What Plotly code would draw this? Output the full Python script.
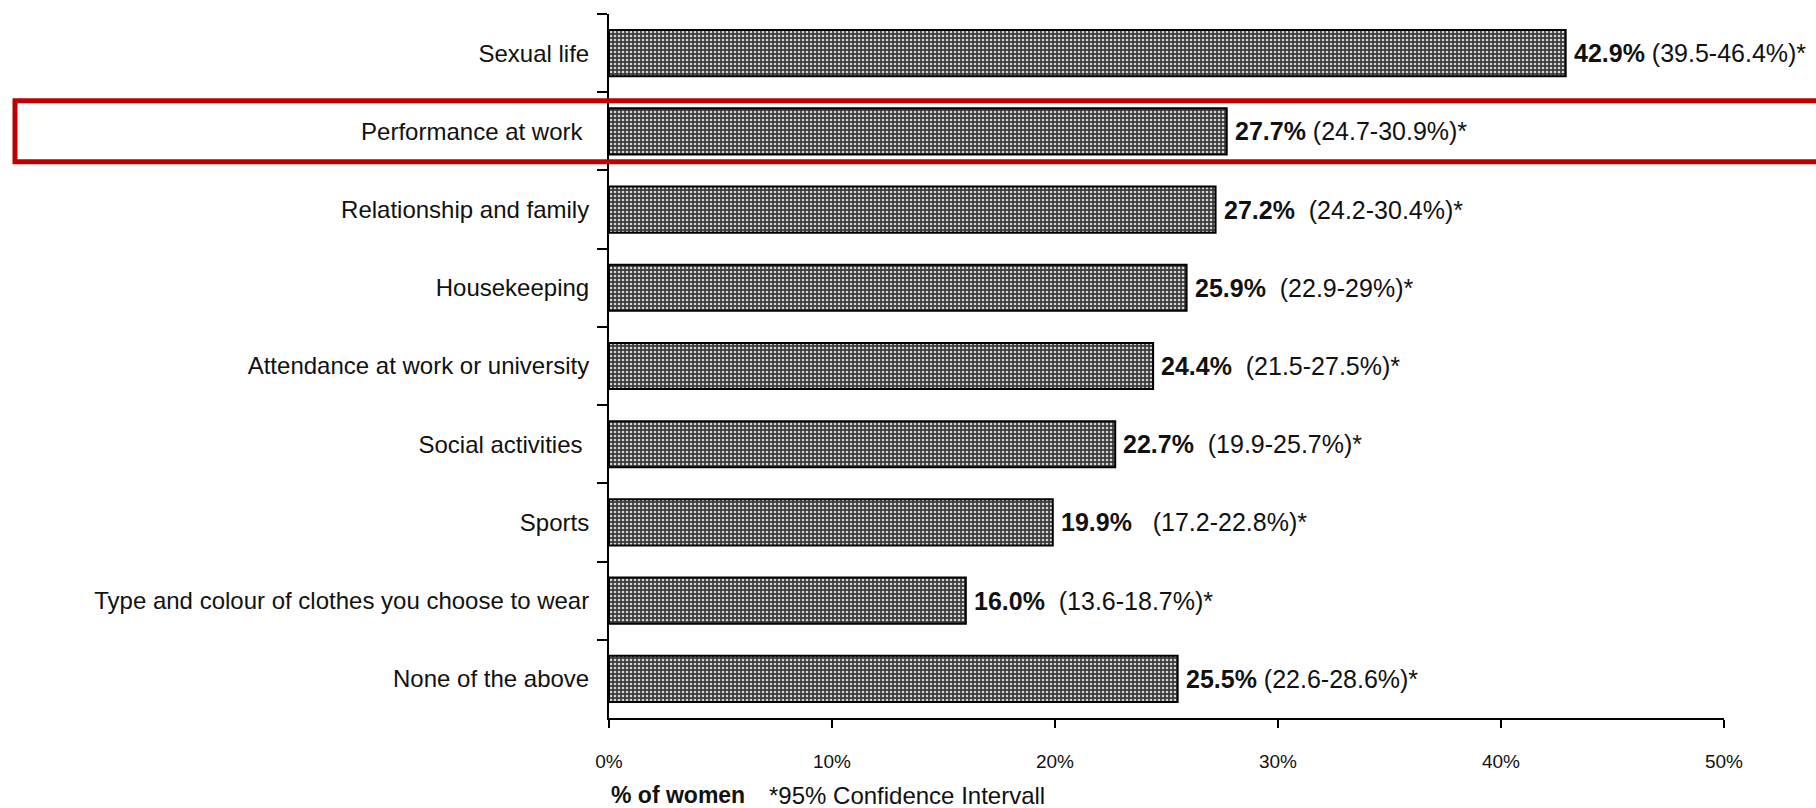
import plotly.graph_objects as go

# ---- data ----
categories = [
    "Sexual life",
    "Performance at work\u00a0",
    "Relationship and family",
    "Housekeeping",
    "Attendance at work or university",
    "Social activities\u00a0",
    "Sports",
    "Type and colour of clothes you choose to wear",
    "None of the above",
]
values = [42.9, 27.7, 27.2, 25.9, 24.4, 22.7, 19.9, 16.0, 25.5]
ci_labels = [
    "(39.5-46.4%)*",
    "(24.7-30.9%)*",
    "(24.2-30.4%)*",
    "(22.9-29%)*",
    "(21.5-27.5%)*",
    "(19.9-25.7%)*",
    "(17.2-22.8%)*",
    "(13.6-18.7%)*",
    "(22.6-28.6%)*",
]
x_tickvals = [0, 10, 20, 30, 40, 50]
x_ticktext = ["0%", "10%", "20%", "30%", "40%", "50%"]
footer_left = "% of women"
footer_right = "*95% Confidence Intervall"

# ---- style ----
W, H = 1816, 808
ML, MR, MT, MB = 609, 92, 14, 90
FONT = "Liberation Sans, Arial, Helvetica, sans-serif"
label_gaps = [1, 1, 2, 2, 2, 2, 3, 2, 1]

fig = go.Figure()
fig.add_trace(go.Bar(
    y=categories,
    x=values,
    orientation="h",
    marker=dict(
        color="#3a3a3a",
        line=dict(color="black", width=2),
        pattern=dict(shape=".", bgcolor="#3a3a3a", fgcolor="#d6d6d6",
                     size=4, solidity=0.33, fillmode="replace"),
    ),
    hoverinfo="skip",
    showlegend=False,
))

for cat, v, ci, g in zip(categories, values, ci_labels, label_gaps):
    fig.add_annotation(
        x=v, y=cat, xref="x", yref="y",
        text="<b>%.1f%%</b>%s%s" % (v, "\u00a0" * g, ci),
        showarrow=False, xanchor="left", yanchor="middle", xshift=6,
        font=dict(family=FONT, size=25, color="#111"),
    )

plot_w = W - ML - MR
plot_h = H - MT - MB
fig.add_annotation(
    x=0, y=(H - MB - 795) / plot_h, xref="paper", yref="paper",
    text="<b>" + footer_left + "</b>", showarrow=False,
    xanchor="left", yanchor="middle",
    font=dict(family=FONT, size=23, color="#111"),
)
fig.add_annotation(
    x=(767 - ML) / plot_w, y=(H - MB - 795) / plot_h, xref="paper", yref="paper",
    text=footer_right, showarrow=False,
    xanchor="left", yanchor="middle",
    font=dict(family=FONT, size=24, color="#111"),
)

# red highlight rectangle around "Performance at work"
fig.add_shape(
    type="rect", xref="paper", yref="y",
    x0=(15 - ML) / plot_w, x1=(W + 20 - ML) / plot_w,
    y0=1 - 0.39, y1=1 + 0.39,
    line=dict(color="#C00000", width=5),
    fillcolor="rgba(0,0,0,0)", layer="above",
)

fig.update_layout(
    width=W, height=H,
    margin=dict(l=ML, r=MR, t=MT, b=MB, autoexpand=False),
    paper_bgcolor="white", plot_bgcolor="white",
    bargap=0.41,
    font=dict(family=FONT, color="#111"),
)
fig.update_xaxes(
    range=[0, 50], tickvals=x_tickvals, ticktext=x_ticktext,
    showline=True, linecolor="black", linewidth=2,
    ticks="outside", ticklen=8, tickwidth=2, tickcolor="black",
    showgrid=False, zeroline=False,
    tickfont=dict(family=FONT, size=19, color="#111"),
    ticklabelstandoff=17,
)
fig.update_yaxes(
    type="category", range=[8.5, -0.5],
    showline=True, linecolor="black", linewidth=2,
    ticks="outside", ticklen=10, tickwidth=2, tickcolor="black",
    tickson="boundaries", showgrid=False, zeroline=False,
    tickfont=dict(family=FONT, size=24, color="#111"),
    ticklabelstandoff=13,
)

fig.write_html("out.html")
